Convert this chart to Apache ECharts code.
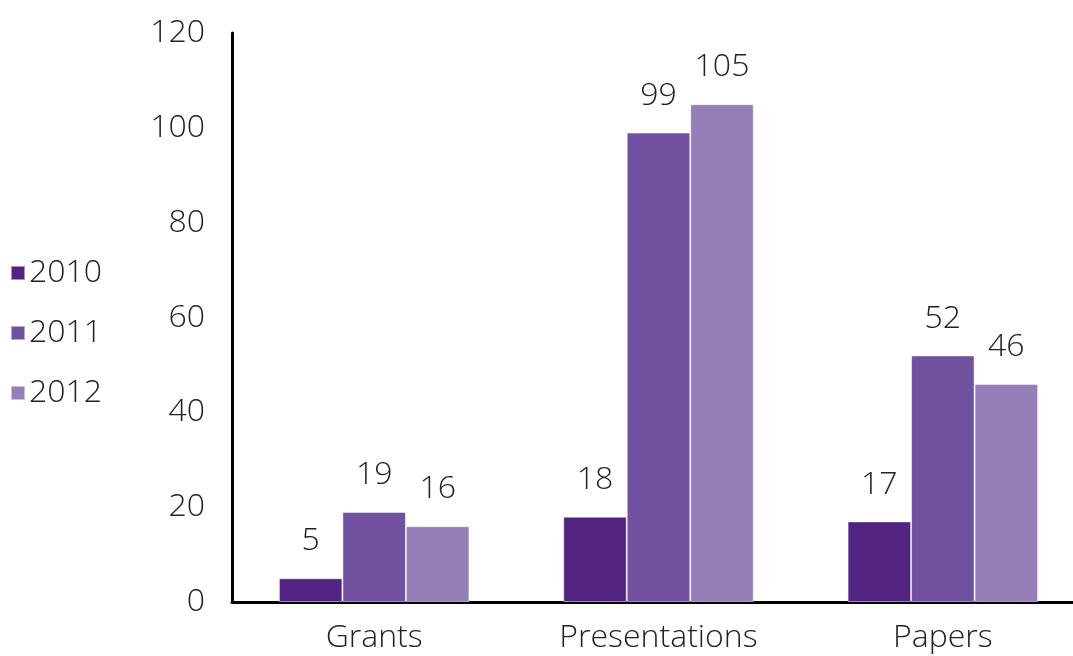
<!DOCTYPE html>
<html><head><meta charset="utf-8">
<script src="https://cdn.jsdelivr.net/npm/echarts@6/dist/echarts.min.js"></script>
<style>html,body{margin:0;padding:0;background:#fff}#c{width:1073px;height:656px}</style>
</head><body><div id="c"></div>
<script>
const categories = ['Grants', 'Presentations', 'Papers'];
const seriesNames = ['2010', '2011', '2012'];
const values2010 = [5, 18, 17];
const values2011 = [19, 99, 52];
const values2012 = [16, 105, 46];
const colors = ['#532382', '#7051a0', '#967eb6'];
const FONT = 'Open Sans';
const FW = 300;
const FS = 32;
const chart = echarts.init(document.getElementById('c'));
const allValues = [values2010, values2011, values2012];
chart.setOption({
  animation: false,
  color: colors,
  textStyle: { fontFamily: FONT, fontWeight: FW },
  legend: {
    orient: 'vertical', left: 5, top: 250,
    itemWidth: 14, itemHeight: 14, itemGap: 24, icon: 'rect',
    textStyle: { fontSize: FS, lineHeight: 36, color: '#222', fontFamily: FONT, fontWeight: FW, padding: [0,0,0,-1] },
    data: seriesNames
  },
  grid: { left: 232, width: 853, top: 33, bottom: 54, containLabel: false, outerBoundsMode: 'none' },
  xAxis: {
    type: 'category', data: categories,
    axisLine: { lineStyle: { color: '#000', width: 3 } },
    axisTick: { show: false },
    axisLabel: { fontSize: FS, color: '#222', margin: 20, fontFamily: FONT, fontWeight: FW }
  },
  yAxis: {
    type: 'value', min: 0, max: 120, interval: 20,
    axisLine: { show: true, lineStyle: { color: '#000', width: 3 } },
    axisTick: { show: false },
    splitLine: { show: false },
    axisLabel: { fontSize: FS, color: '#222', margin: 27, fontFamily: FONT, fontWeight: FW }
  },
  series: seriesNames.map((n, i) => ({
    name: n, type: 'bar', data: allValues[i],
    barGap: '0%', barCategoryGap: '33%',
    itemStyle: { borderColor: 'rgba(255,255,255,0.5)', borderWidth: 1 },
    label: { show: true, position: 'top', distance: 21, fontSize: FS, color: '#222', fontFamily: FONT, fontWeight: FW }
  }))
});
</script></body></html>
